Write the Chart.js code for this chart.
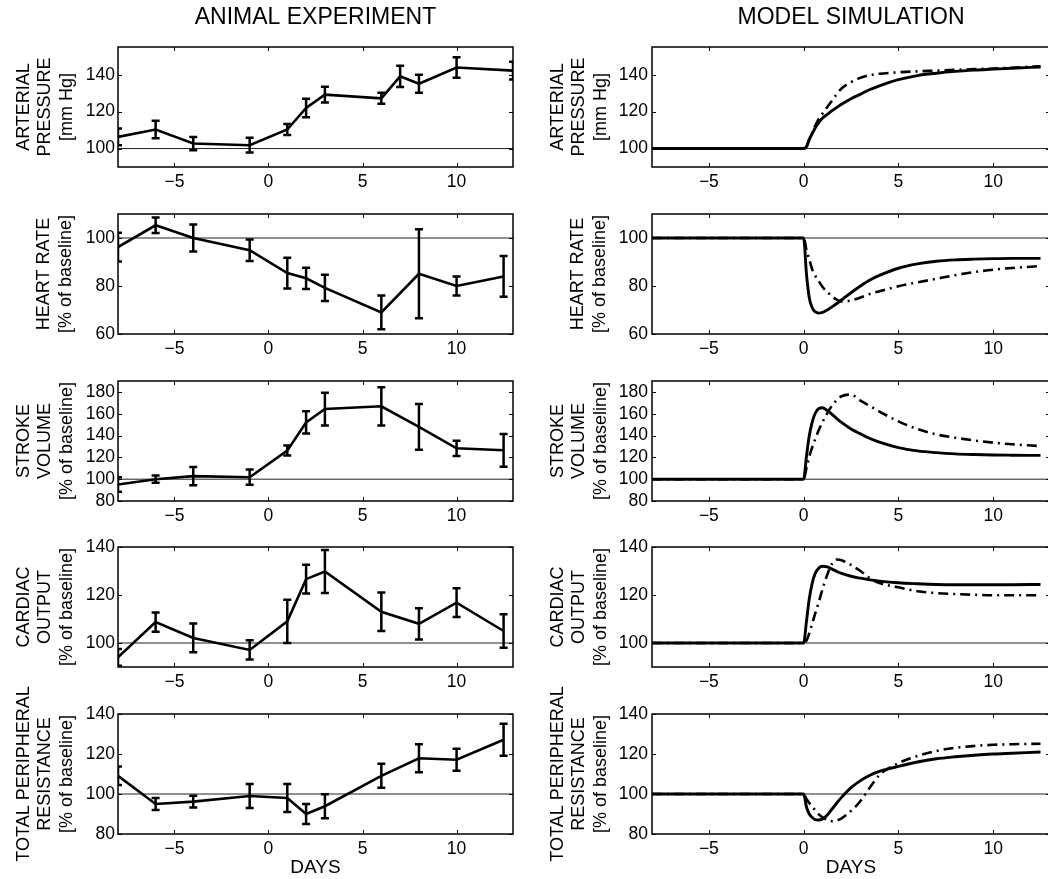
<!DOCTYPE html>
<html><head><meta charset="utf-8">
<script src="https://cdn.jsdelivr.net/npm/chart.js@4.4.1/dist/chart.umd.min.js"></script>
<style>
html,body{margin:0;padding:0;background:#fff;overflow:hidden;width:1048px;height:879px;position:relative;}
canvas{position:absolute;}
</style></head><body>
<script>
// ---------- DATA ----------
const columnTitles = ['ANIMAL EXPERIMENT', 'MODEL SIMULATION'];
const xAxisLabel = 'DAYS';
const rowLabels = [
  ['ARTERIAL', 'PRESSURE', '[mm Hg]'],
  ['HEART RATE', '[% of baseline]'],
  ['STROKE', 'VOLUME', '[% of baseline]'],
  ['CARDIAC', 'OUTPUT', '[% of baseline]'],
  ['TOTAL PERIPHERAL', 'RESISTANCE', '[% of baseline]']
];
const xTickValues = [-5, 0, 5, 10];
const apTicks = [100, 120, 140];
const hrTicks = [60, 80, 100];
const svTicks = [80, 100, 120, 140, 160, 180];
const coTicks = [100, 120, 140];
const tprTicks = [80, 100, 120, 140];
const baselineValue = 100;

// animal experiment (mean and error-bar half-length)
const expDaysAP = [-8, -6, -4, -1, 1, 2, 3, 6, 7, 8, 10, 13];
const apMean = [106.3, 110.3, 102.7, 101.8, 110.3, 122, 129.2, 127.2, 139.1, 135.1, 143.9, 142.2];
const apErr  = [4.5, 4.7, 3.6, 4, 3, 5, 4.3, 3, 5.7, 4.9, 5.5, 4.8];

const expDays = [-8, -6, -4, -1, 1, 2, 3, 6, 8, 10, 12.5];
const hrMean = [96.2, 105.3, 100, 94.9, 85.4, 83.2, 79.2, 69, 85.1, 80, 84];
const hrErr  = [6, 3.2, 5.6, 4.5, 6.4, 4.4, 5.5, 7, 18.5, 4, 8.5];
const svMean = [95.1, 100, 102.8, 101.8, 126.2, 152, 164.3, 166.8, 148, 128.3, 126.5];
const svErr  = [6.6, 3.3, 8.4, 7, 4.6, 10.2, 15, 17.5, 21, 7, 15];
const coMean = [94, 108.7, 102.1, 97.1, 109, 126.6, 129.8, 113, 108, 116.8, 105];
const coErr  = [3.5, 4, 6, 4, 9, 6, 9, 8, 6.5, 6, 7];
const tprMean = [109.1, 95, 96.2, 99, 98, 90, 93.9, 109.1, 117.9, 117.1, 127.1];
const tprErr  = [4.6, 3, 2.9, 6, 7, 5, 6, 6, 7, 5.5, 8];

// model simulation (solid = model A, dash-dot = model B)
const modelDays = [-8, 0, 0.15, 0.3, 0.45, 0.6, 0.8, 1.0, 1.25, 1.5, 1.75, 2.0, 2.5, 3.0, 3.5, 4.0, 5.0, 6.0, 7.0, 8.0, 9.0, 10.0, 11.0, 12.5];
const apModelA  = [100, 100, 101, 105, 108, 111, 114, 116.5, 118.5, 120.5, 122.3, 124, 127, 129.5, 132, 134, 137.3, 139.5, 140.8, 141.8, 142.5, 143, 143.5, 144.2];
const apModelB  = [100, 100, 101, 105, 108.5, 112, 116, 119, 122.5, 126, 129.5, 132.5, 136, 138.3, 139.8, 140.5, 141.3, 141.8, 142.2, 142.6, 143, 143.3, 143.8, 144.6];
const hrModelA  = [100, 100, 85, 75, 71, 69.3, 68.7, 69, 70, 71.3, 72.7, 74.2, 77.2, 80, 82.5, 84.4, 87.4, 89.2, 90.3, 90.9, 91.2, 91.4, 91.5, 91.5];
const hrModelB  = [100, 100, 95, 91, 87, 84.5, 82, 79.6, 77.5, 75.7, 74.3, 73.6, 74, 75.2, 76.7, 77.8, 79.9, 81.5, 83, 84.5, 85.8, 86.8, 87.5, 88.3];
const svModelA  = [100, 100, 121, 140, 152, 160, 164.8, 165.5, 162.8, 159.5, 155.5, 152, 146, 141.5, 137.3, 134, 129, 126, 124.3, 123.2, 122.6, 122.2, 122, 121.8];
const svModelB  = [100, 100, 110, 121, 129, 136, 145, 152.5, 160.5, 167.5, 172.5, 176, 177.5, 172, 167, 162, 153, 146, 141, 138, 135.5, 133.5, 132, 130.3];
const coModelA  = [100, 100, 109, 118.5, 124.8, 128.8, 131.2, 132, 131.7, 130.8, 129.8, 129, 127.8, 127, 126.3, 125.8, 125.1, 124.7, 124.4, 124.3, 124.3, 124.3, 124.3, 124.4];
const coModelB  = [100, 100, 101, 104, 108, 112, 117, 122.5, 128.5, 133, 134.8, 134.5, 132.5, 130, 127, 125, 123.2, 121.6, 120.8, 120.4, 120.1, 119.9, 119.9, 119.9];
const tprModelA = [100, 100, 93.5, 90, 88.3, 87.2, 87, 87.5, 89.5, 92.5, 95.5, 98.3, 103.2, 106.7, 109.4, 111.3, 113.8, 116, 117.6, 118.6, 119.4, 120, 120.4, 121];
const tprModelB = [100, 100, 97.5, 95.5, 93.8, 92, 89.8, 88.3, 87, 86.4, 86.8, 87.8, 91.5, 96.5, 103.3, 109.5, 115.4, 119, 121.5, 123.1, 124, 124.6, 124.9, 125.1];

// ---------- BUILD ----------
const panels = [
  {yMin: 90, yMax: 155, yTicks: apTicks, days: expDaysAP, mean: apMean, err: apErr, mA: apModelA, mB: apModelB},
  {yMin: 60, yMax: 110, yTicks: hrTicks, days: expDays, mean: hrMean, err: hrErr, mA: hrModelA, mB: hrModelB},
  {yMin: 80, yMax: 190, yTicks: svTicks, days: expDays, mean: svMean, err: svErr, mA: svModelA, mB: svModelB},
  {yMin: 90, yMax: 140, yTicks: coTicks, days: expDays, mean: coMean, err: coErr, mA: coModelA, mB: coModelB},
  {yMin: 80, yMax: 140, yTicks: tprTicks, days: expDays, mean: tprMean, err: tprErr, mA: tprModelA, mB: tprModelB}
];

const FONT = "'Liberation Sans', Arial, Helvetica, sans-serif";
Chart.defaults.font.family = FONT;
Chart.defaults.color = '#000';

const PLOT_TOPS = [47, 214, 381, 547, 714];
const PLOT_H = 120;
const COLS = [
  {left: 0, yw: 118, plotW: 395, yPad: 3},
  {left: 530, yw: 122, plotW: 398, yPad: 4}
];
const X_MIN = -8, X_MAX = 13;
const TITLE_LH = 21.5, TITLE_SIZE = 18;
const TICK_SIZE = 17.5;
const TOP_EXTRA = 45;

const fmt = v => (v < 0 ? '\u2212' + Math.abs(v) : String(v));

const boxPlugin = {
  id: 'boxTicks',
  afterDatasetsDraw(chart) {
    const {ctx, chartArea: a, scales: {x, y}} = chart;
    ctx.save();
    ctx.beginPath();
    ctx.rect(a.left, a.top, a.right - a.left, a.bottom - a.top);
    ctx.clip();
    chart.data.datasets.forEach(ds => {
      if (!ds.errors) return;
      ctx.strokeStyle = '#000';
      ctx.lineWidth = 2.5;
      ds.data.forEach((p, i) => {
        const e = ds.errors[i];
        const px = x.getPixelForValue(p.x);
        const y1 = y.getPixelForValue(p.y + e), y2 = y.getPixelForValue(p.y - e);
        ctx.beginPath();
        ctx.moveTo(px, y1); ctx.lineTo(px, y2);
        ctx.moveTo(px - 4, y1); ctx.lineTo(px + 4, y1);
        ctx.moveTo(px - 4, y2); ctx.lineTo(px + 4, y2);
        ctx.stroke();
      });
    });
    ctx.restore();
    ctx.save();
    ctx.strokeStyle = '#000';
    ctx.lineWidth = 1.5;
    ctx.strokeRect(a.left, a.top, a.right - a.left, a.bottom - a.top);
    ctx.lineWidth = 1;
    x.ticks.forEach(t => {
      const px = Math.round(x.getPixelForValue(t.value)) + 0.5;
      ctx.beginPath();
      ctx.moveTo(px, a.bottom); ctx.lineTo(px, a.bottom - 4);
      ctx.moveTo(px, a.top); ctx.lineTo(px, a.top + 4);
      ctx.stroke();
    });
    y.ticks.forEach(t => {
      const py = Math.round(y.getPixelForValue(t.value)) + 0.5;
      ctx.beginPath();
      ctx.moveTo(a.left, py); ctx.lineTo(a.left + 4, py);
      ctx.moveTo(a.right, py); ctx.lineTo(a.right - 4, py);
      ctx.stroke();
    });
    ctx.restore();
  }
};

function makeChart(r, c) {
  const p = panels[r];
  const col = COLS[c];
  const canvasTop = r === 0 ? 0 : PLOT_TOPS[r] - TOP_EXTRA;
  const padTop = r === 0 ? 0 : TOP_EXTRA;
  const xh = r === 4 ? 879 - (PLOT_TOPS[4] + PLOT_H) : 30;
  const height = (PLOT_TOPS[r] - canvasTop) + PLOT_H + xh;
  const width = col.yw + col.plotW + 6;
  const cv = document.createElement('canvas');
  cv.width = width; cv.height = height;
  cv.style.left = col.left + 'px';
  cv.style.top = canvasTop + 'px';
  cv.style.width = width + 'px';
  cv.style.height = height + 'px';
  document.body.appendChild(cv);

  const label = rowLabels[r];
  const nLines = label.length;
  const firstCenter = col.yw - 94 + 20.5 * (3 - nLines);
  const titlePadTop = firstCenter - TITLE_LH / 2;

  const datasets = [];
  if (c === 0) {
    datasets.push({
      data: p.days.map((d, i) => ({x: d, y: p.mean[i]})),
      errors: p.err,
      borderColor: '#000', borderWidth: 2.6, pointRadius: 0, tension: 0
    });
  } else {
    datasets.push({
      data: modelDays.map((d, i) => ({x: d, y: p.mA[i]})),
      borderColor: '#000', borderWidth: 2.9, pointRadius: 0,
      cubicInterpolationMode: 'monotone'
    });
    datasets.push({
      data: modelDays.map((d, i) => ({x: d, y: p.mB[i]})),
      borderColor: '#000', borderWidth: 2.6, pointRadius: 0,
      borderDash: [10, 5, 2, 5],
      cubicInterpolationMode: 'monotone'
    });
  }
  datasets.push({
    data: [{x: X_MIN, y: baselineValue}, {x: X_MAX, y: baselineValue}],
    borderColor: '#222', borderWidth: 1, pointRadius: 0
  });

  return new Chart(cv, {
    type: 'line',
    data: {datasets},
    plugins: [boxPlugin],
    options: {
      responsive: false,
      animation: false,
      devicePixelRatio: 1,
      layout: {padding: {top: padTop, right: 6, left: 0, bottom: 0}},
      plugins: {
        legend: {display: false},
        tooltip: {enabled: false},
        title: {
          display: r === 0,
          text: columnTitles[c],
          fullSize: false,
          color: '#000',
          font: {size: 23, weight: 'normal', lineHeight: 1.2},
          padding: {top: 4, bottom: 15.4}
        }
      },
      scales: {
        x: {
          type: 'linear', min: X_MIN, max: X_MAX,
          grid: {display: false, drawTicks: false},
          border: {display: false},
          afterBuildTicks: s => { s.ticks = xTickValues.map(v => ({value: v})); },
          afterFit: s => { s.height = xh; },
          ticks: {padding: 5, font: {size: TICK_SIZE}, color: '#000', callback: fmt, maxRotation: 0, autoSkip: false},
          title: {display: r === 4, text: xAxisLabel, color: '#000', font: {size: 19, lineHeight: 1.2}, padding: {top: 0, bottom: 0}}
        },
        y: {
          type: 'linear', min: p.yMin, max: p.yMax,
          grid: {display: false, drawTicks: false},
          border: {display: false},
          afterBuildTicks: s => { s.ticks = p.yTicks.map(v => ({value: v})); },
          afterFit: s => { s.width = col.yw; },
          ticks: {padding: col.yPad, font: {size: TICK_SIZE}, color: '#000', callback: fmt, autoSkip: false},
          title: {display: true, text: label, color: '#000', font: {size: TITLE_SIZE, lineHeight: TITLE_LH / TITLE_SIZE}, padding: {top: titlePadTop, bottom: 0}}
        }
      }
    }
  });
}

for (let r = 0; r < 5; r++) {
  for (let c = 0; c < 2; c++) makeChart(r, c);
}
</script>
</body></html>
